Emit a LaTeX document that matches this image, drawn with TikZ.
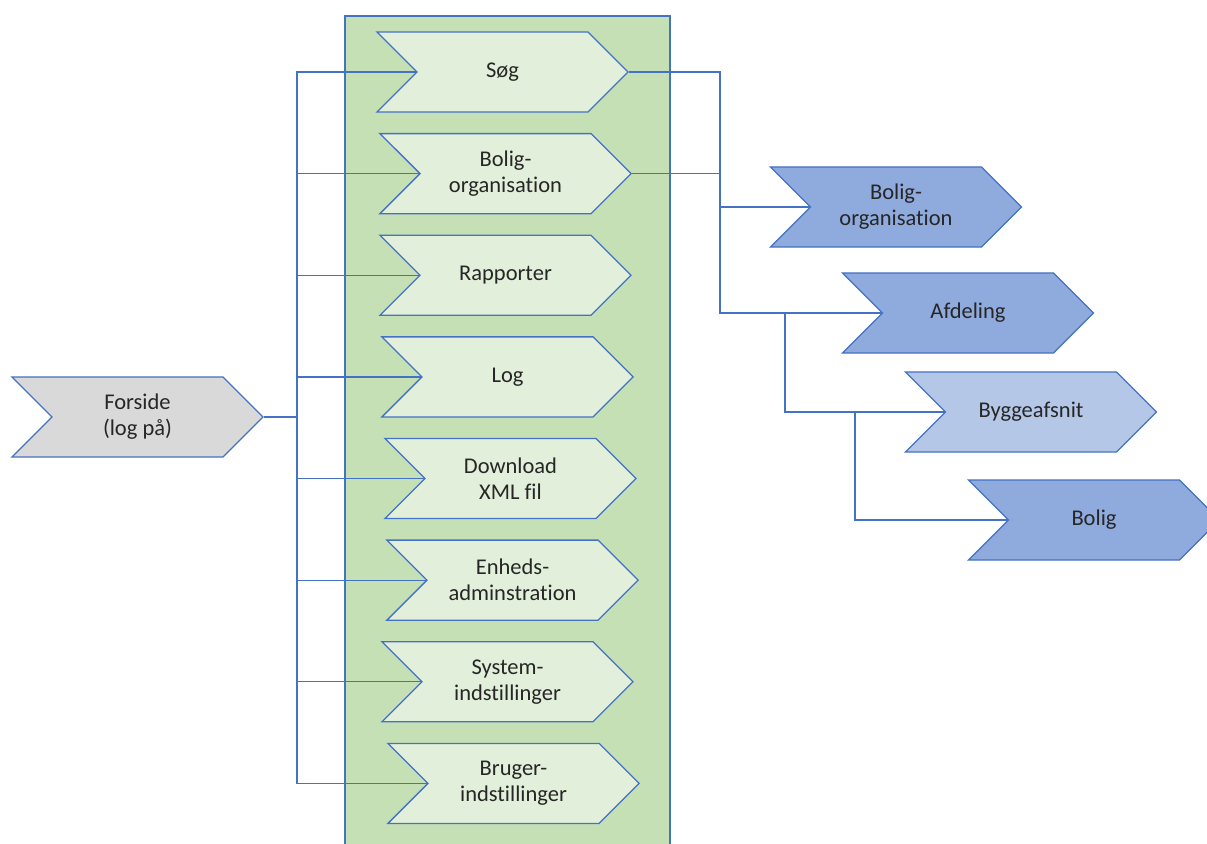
\documentclass[tikz,border=0pt]{standalone}
\usepackage{fontspec}
\setmainfont{Carlito}[Ligatures=NoCommon]
\usetikzlibrary{shapes.symbols,positioning}
\definecolor{panelgreen}{HTML}{C5E0B4}
\definecolor{menugreen}{HTML}{E2EFDA}
\definecolor{linkblue}{HTML}{4472C4}
\definecolor{pagegray}{HTML}{D9D9D9}
\definecolor{unitblue}{HTML}{8FAADC}
\definecolor{paleblue}{HTML}{B4C7E7}
\tikzset{every node/.style={font=\fontsize{16}{18.5}\selectfont, text=black!85},
         chevron/.style={signal, signal to=east, signal from=west,
    draw=linkblue, line width=0.9pt, minimum width=6.275cm,
    minimum height=2cm, inner sep=0pt, align=center}
}
\tikzstyle{menubox} = [chevron, fill=menugreen]
\tikzstyle{unitbox} = [chevron, fill=unitblue]
\tikzstyle{conn} = [draw=linkblue, line width=0.9pt]

\begin{document}
\begin{tikzpicture}[x=0.025cm, y=-0.025cm, node distance=2.54cm]
    \useasboundingbox (0,0) rectangle (1207,843);
    % menu panel
    \draw [draw=linkblue, fill=panelgreen, line width=0.9pt] (345,16) rectangle (670,870);
    \node [chevron, fill=pagegray] (forside) at (137.5,417) {Forside\\(log på)};
    \node [menubox] (soeg) at (502.5,72) {Søg};
    \node [menubox, below of=soeg, xshift=0.075cm] (borg) {Bolig-\\organisation};
    \node [menubox, below of=borg] (rapp) {Rapporter};
    \node [menubox, below of=rapp, xshift=0.05cm] (log) {Log};
    \node [menubox, below of=log, xshift=0.075cm] (xml) {Download\\XML fil};
    \node [menubox, below of=xml, xshift=0.05cm] (enhed) {Enheds-\\adminstration};
    \node [menubox, below of=enhed, xshift=-0.125cm] (system) {System-\\indstillinger};
    \node [menubox, below of=system, xshift=0.15cm] (bruger) {Bruger-\\indstillinger};
    % levels
    \node [unitbox] (borgB) at (896,207) {Bolig-\\organisation};
    \node [unitbox] (afd) at (968,313) {Afdeling};
    \node [chevron, fill=paleblue] (bygg) at (1031,412) {Byggeafsnit};
    \node [unitbox] (bolig) at (1094,520) {Bolig};
    % left bus
    \coordinate (busL) at (297,417);
    \draw [conn] (forside.east) -- (busL);
    \foreach \m in {soeg,borg,rapp,log,xml,enhed,system,bruger}
        \draw [conn] (busL) |- (\m.west);
    % right bus
    \coordinate (busR) at (720,313);
    \coordinate (busA) at (785,313);
    \coordinate (busB) at (855,412);
    \draw [conn] (soeg.east) -| (busR) -- (afd.west);
    \draw [conn] (borg.east) -- (borg.east -| busR);
    \draw [conn] (busR |- borgB.west) -- (borgB.west);
    \draw [conn] (busA) |- (bygg.west);
    \draw [conn] (busB) |- (bolig.west);
\end{tikzpicture}
\end{document}
